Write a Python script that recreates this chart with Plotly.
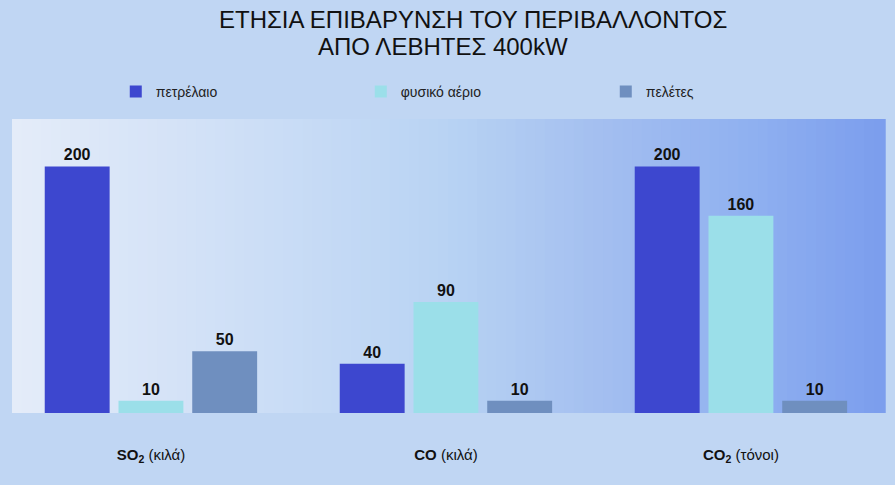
import plotly.graph_objects as go

categories = ["<b>SO<sub>2</sub></b> (κιλά)", "<b>CO</b> (κιλά)", "<b>CO<sub>2</sub></b> (τόνοι)"]
series_names = ["πετρέλαιο", "φυσικό αέριο", "πελέτες"]
oil = [200, 40, 200]
gas = [10, 90, 160]
pellets = [50, 10, 10]
colors = ["#3d47cf", "#9bdfe9", "#6f8fbf"]
title_line1 = "ΕΤΗΣΙΑ ΕΠΙΒΑΡΥΝΣΗ ΤΟΥ ΠΕΡΙΒΑΛΛΟΝΤΟΣ"
title_line2 = "ΑΠΟ ΛΕΒΗΤΕΣ 400kW"

FONT = "Liberation Sans, Arial, sans-serif"

fig = go.Figure()
for name, vals, col in zip(series_names, [oil, gas, pellets], colors):
    fig.add_trace(go.Bar(
        x=categories, y=vals, name=name,
        marker=dict(color=col, line=dict(width=0)),
        text=[str(v) for v in vals], textposition="outside",
        textfont=dict(family=FONT, size=16, color="#111111", weight="bold"),
        cliponaxis=False,
    ))

# background gradient strips for plot area
def lerp(c1, c2, t):
    return tuple(round(a + (b - a) * t) for a, b in zip(c1, c2))

stops = [(0.0, (228, 236, 249)), (0.3, (203, 221, 246)), (0.5, (184, 211, 243)),
         (0.68, (163, 190, 240)), (0.85, (143, 176, 240)), (1.0, (123, 157, 237))]
N = 90
shapes = []
for i in range(N):
    t = (i + 0.5) / N
    for j in range(len(stops) - 1):
        if stops[j][0] <= t <= stops[j + 1][0]:
            tt = (t - stops[j][0]) / (stops[j + 1][0] - stops[j][0])
            c = lerp(stops[j][1], stops[j + 1][1], tt)
            break
    shapes.append(dict(type="rect", xref="paper", yref="paper",
                       x0=i / N, x1=(i + 1) / N + 0.002, y0=0, y1=1,
                       fillcolor="rgb(%d,%d,%d)" % c, line=dict(width=0), layer="below"))

fig.update_layout(
    width=895, height=485,
    margin=dict(l=12, r=11, t=119, b=72),
    paper_bgcolor="#c0d6f3",
    plot_bgcolor="rgba(0,0,0,0)",
    barmode="group", bargap=0.25, bargroupgap=0.12,
    showlegend=True,
    legend=dict(orientation="h", x=0.119, y=1.092, xanchor="left", yanchor="middle",
                entrywidth=200, entrywidthmode="pixels",
                font=dict(family=FONT, size=14, color="#222222"),
                bgcolor="rgba(0,0,0,0)"),
    font=dict(family=FONT, color="#111111"),
    xaxis=dict(range=[-0.471, 2.485], showgrid=False, zeroline=False, showline=False,
               ticks="outside", ticklen=28, tickcolor="rgba(0,0,0,0)",
               tickfont=dict(family=FONT, size=15, color="#111111")),
    yaxis=dict(range=[0, 238.5], visible=False, showgrid=False, zeroline=False),
    shapes=shapes,
    annotations=[
        dict(text=title_line1, xref="paper", yref="paper", x=0.5287, y=1.337,
             xanchor="center", yanchor="middle", showarrow=False,
             font=dict(family=FONT, size=24, color="#111111")),
        dict(text=title_line2, xref="paper", yref="paper", x=0.494, y=1.245,
             xanchor="center", yanchor="middle", showarrow=False,
             font=dict(family=FONT, size=24, color="#111111")),
    ],
)

fig.write_html("out.html", config={"displayModeBar": False},
               post_script="document.body.style.margin='0';document.body.style.padding='0';")
